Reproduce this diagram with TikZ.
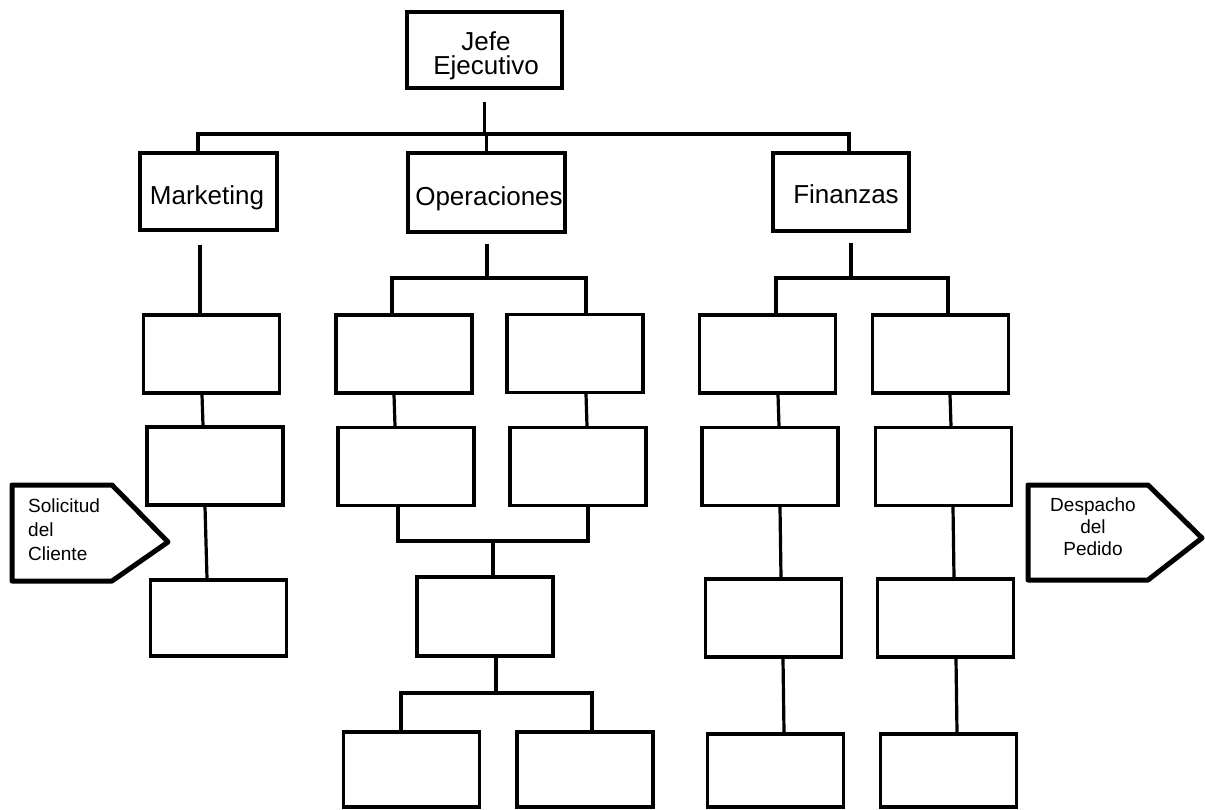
\documentclass[tikz,border=0pt]{standalone}
\usepackage{fontspec}
\setmainfont{Liberation Sans}
\begin{document}
\begin{tikzpicture}[x=1pt,y=-1pt,
  box/.style={draw, line width=3.1pt, inner sep=0pt, minimum width=136pt, minimum height=78pt},
  conn/.style={line width=3.2pt},
  flag/.style={draw, line width=5pt, line join=round},
  big/.style={font=\fontsize{26}{24}\selectfont, inner sep=0pt},
  small/.style={font=\fontsize{19}{24}\selectfont, inner sep=0pt}]
\useasboundingbox (0,0) rectangle (1205,809);

% top levels
\node[box, minimum width=155pt, minimum height=76pt] (jefe) at (484.5,50) {};
\node[big, align=center, anchor=north] (jefet) at (486,31) {Jefe\\Ejecutivo};
\node[box, minimum width=137pt, minimum height=77pt] (mkt) at (208.5,191.5) {};
\node[big, anchor=base] (mktt) at (207,204) {Marketing};
\node[box, minimum width=157pt, minimum height=79pt] (ops) at (486.5,192.5) {};
\node[big, anchor=base] (opst) at (489,205) {Operaciones};
\node[box] (fin) at (841,192) {};
\node[big, anchor=base] (fint) at (846,203) {Finanzas};

% marketing column
\node[box] (m1) at (211.5,354) {};
\node[box] (m2) at (215,466) {};
\node[box, minimum height=76pt] (m3) at (218.5,618) {};

% operaciones
\node[box] (o1) at (404,354) {};
\node[box] (o2) at (406,466.5) {};
\node[box] (o3) at (575,353.5) {};
\node[box] (o4) at (578,466.5) {};
\node[box, minimum height=79pt] (o5) at (485,616.5) {};
\node[box, minimum height=75pt] (o6) at (411.5,769.5) {};
\node[box, minimum height=75pt] (o7) at (585,769.5) {};

% finanzas
\node[box] (f1) at (767.5,354) {};
\node[box] (f2) at (770,466.5) {};
\node[box] (f3) at (773.5,618) {};
\node[box, minimum height=73pt] (f4) at (775.5,770.5) {};
\node[box] (g1) at (940.5,354) {};
\node[box] (g2) at (943.5,466.5) {};
\node[box] (g3) at (945.5,618) {};
\node[box, minimum height=73pt] (g4) at (948.5,770.5) {};

% connectors top
\coordinate (topbus) at (485.5,134);
\draw[conn, shorten <=12pt] (jefe.south) -- (jefe.south |- topbus);
\draw[conn] (mkt.north -| 198,0) |- (topbus) -| (fin.north -| 849,0);
\draw[conn] (ops.north) -- (ops.north |- topbus);

% marketing
\draw[conn, shorten <=13pt] (mkt.south -| 200,0) -- (m1.north -| 200,0);
\draw[conn] (m1.south -| 202,0) -- (m2.north -| 203,0);
\draw[conn] (m2.south -| 205,0) -- (m3.north -| 207,0);

% operaciones
\coordinate (obus) at (487,278);
\draw[conn, shorten <=10pt] (ops.south -| 487,0) -- (obus);
\draw[conn] (o1.north -| 392,0) |- (obus) -| (o3.north -| 586,0);
\draw[conn] (o1.south -| 394,0) -- (o2.north -| 395,0);
\draw[conn] (o3.south -| 586,0) -- (o4.north -| 587,0);
\coordinate (ojoin) at (493,541);
\draw[conn] (o2.south -| 398,0) |- (ojoin) -| (o4.south -| 588,0);
\draw[conn] (ojoin) -- (o5.north -| 493,0);
\coordinate (obus2) at (496,693);
\draw[conn] (o5.south -| 496,0) -- (obus2);
\draw[conn] (o6.north -| 401,0) |- (obus2) -| (o7.north -| 592,0);

% finanzas
\coordinate (fbus) at (851,278);
\draw[conn, shorten <=10pt] (fin.south -| 851,0) -- (fbus);
\draw[conn] (f1.north -| 776,0) |- (fbus) -| (g1.north -| 948,0);
\draw[conn] (f1.south -| 778,0) -- (f2.north -| 779,0);
\draw[conn] (f2.south -| 780,0) -- (f3.north -| 781,0);
\draw[conn] (f3.south -| 783,0) -- (f4.north -| 784,0);
\draw[conn] (g1.south -| 950,0) -- (g2.north -| 951,0);
\draw[conn] (g2.south -| 953,0) -- (g3.north -| 954,0);
\draw[conn] (g3.south -| 956,0) -- (g4.north -| 957,0);

% flags
\draw[flag] (12,485) -- (112,485) -- (168,542) -- (112,581) -- (12,581) -- cycle;
\node[small, align=left, anchor=north west] (sol) at (28,499) {Solicitud\\del\\Cliente};
\draw[flag] (1028,485) -- (1148,485) -- (1202,538) -- (1148,580) -- (1028,580) -- cycle;
\node[inner sep=0pt, align=center, anchor=north, font=\fontsize{19}{22}\selectfont] (des) at (1093,498) {Despacho\\del\\Pedido};
\end{tikzpicture}
\end{document}
